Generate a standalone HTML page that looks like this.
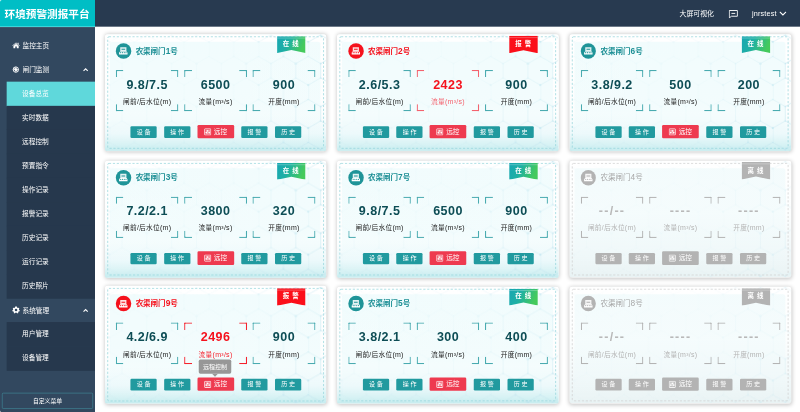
<!DOCTYPE html><html lang="zh-CN"><head><meta charset="utf-8"><title>环境预警测报平台</title><style>

*{box-sizing:border-box;margin:0;padding:0}
html,body{width:800px;height:412px;overflow:hidden;background:#fff}
body{font-family:"Liberation Sans","Noto Sans CJK SC",sans-serif;color:#333}
#stage{position:absolute;left:0;top:0;width:1920px;height:989px;transform:scale(0.4166667);transform-origin:0 0;background:#fff;overflow:hidden}
#hdr{position:absolute;left:0;top:0;width:1920px;height:64px;background:#283a50}
#logo{position:absolute;left:0;top:0;width:228px;height:65px;background:#00bec5;color:#fff;font-weight:bold;font-size:25.5px;line-height:66px;padding-left:11px;white-space:nowrap;border-bottom:2px solid #4fdde0}
#side{position:absolute;left:0;top:65px;width:228px;height:924px;background:#32485f}
.mi{position:absolute;left:0;width:228px;height:57.6px;line-height:57.6px;color:#fff;font-size:16px;white-space:nowrap}
.mi.top{padding-left:54px}
.mi.sub{padding-left:37px;left:16px;width:212px;height:58.75px;background:#26384d}
.mi.act{background:#5fd8db;color:#fff}
.mi svg{position:absolute}
.hr{position:absolute;top:0;height:66px;line-height:66px;color:#fff;font-size:16.5px;white-space:nowrap}
#cust{position:absolute;left:5px;top:878px;width:218px;height:38px;border:1.7px solid #46aab6;border-radius:3px;color:#fff;font-size:14px;text-align:center;line-height:34.5px}
.card{position:absolute;width:531.4px;height:281.3px;border-radius:7px;box-shadow:0 1px 11px rgba(0,0,0,.24);background:linear-gradient(180deg,#fff 0%,#fcfefe 68%,#eef9fb 85%,#d6f2f4 95%,#c6ecef 100%);overflow:hidden;border-bottom:1.5px solid #b0e2e6}
.card svg.hex{position:absolute;left:0;top:0;width:531.4px;height:281.3px;-webkit-mask-image:linear-gradient(90deg,rgba(0,0,0,.18) 0%,rgba(0,0,0,.22) 60%,rgba(0,0,0,.8) 90%,#000 100%);mask-image:linear-gradient(90deg,rgba(0,0,0,.18) 0%,rgba(0,0,0,.22) 60%,rgba(0,0,0,.8) 90%,#000 100%)}
.cw{position:absolute;left:0;width:531.4px;height:281.3px}
.card .pn{position:absolute;left:12px;top:18px;right:14px;bottom:10px;border-radius:6px;background:linear-gradient(180deg,rgba(228,249,251,.5),rgba(228,249,251,.4) 60%,rgba(228,249,251,0))}
.card.off{background:linear-gradient(180deg,#fff 0%,#fcfefe 45%,#f1f8f9 80%,#e9f3f4 100%);border-bottom-color:#dcdcdc}
.card.off .pn{background:linear-gradient(180deg,rgba(232,248,250,.5),rgba(232,248,250,.3) 60%,rgba(232,248,250,0))}
.ic{position:absolute;left:26.6px;top:22.4px;width:36.6px;height:36.6px;border-radius:50%;background:#1f9498}
.alarm .ic{background:#f5121d}
.off .ic{background:#b3b3b3}
.ic svg{position:absolute;left:7.3px;top:7.3px;width:22px;height:22px}
.ttl{position:absolute;left:74px;top:22px;height:38px;line-height:38px;font-size:18px;font-weight:bold;color:#1d8f95;white-space:nowrap}
.ttl b{font-size:20px;line-height:0}
.off .ttl b{font-weight:normal}
.alarm .ttl{color:#f5121d}
.off .ttl{color:#a8a8a8;font-weight:normal}
.rb{position:absolute;left:413px;top:6.5px;width:68.6px;height:39px}
.rb svg{position:absolute;left:0;top:0}
.rb span{position:absolute;left:-1.2px;top:2.5px;width:68.6px;height:31px;line-height:31px;text-align:center;color:#fff;font-size:15.5px;word-spacing:3px;font-weight:bold;white-space:nowrap}
.bx{position:absolute;top:86.2px;width:150.5px;height:99.4px}
.bx i{position:absolute;width:18.5px;height:17.5px;border:0 solid #4aabb0}
.bx i.a{left:0;top:0;border-left-width:3px;border-top-width:3px;border-top-left-radius:2px}
.bx i.b{right:0;top:0;border-right-width:3px;border-top-width:3px;border-top-right-radius:2px}
.bx i.c{left:0;bottom:0;border-left-width:3px;border-bottom-width:3px;border-bottom-left-radius:2px}
.bx i.d{right:0;bottom:0;border-right-width:3px;border-bottom-width:3px;border-bottom-right-radius:2px}
.bx.red i{border-color:#f5222d}
.bx.red.soft i{border-color:#f4626e}
.bx.red.soft .l{color:#f4626e}
.off .bx i{border-color:#b4b4b4}
.bx .v{position:absolute;left:0;top:15.3px;width:100%;text-align:center;font-size:30px;font-weight:bold;line-height:40px;color:#0d4d55;white-space:nowrap;letter-spacing:1.1px}
.bx .l{position:absolute;left:0;top:64.6px;width:100%;text-align:center;font-size:16px;line-height:24px;color:#222;white-space:nowrap;letter-spacing:.7px}
.bx .l b{font-weight:normal;font-size:16.8px;line-height:0}
.bx.red .v{color:#f5121d}
.bx.red .l{color:#f5222d}
.off .bx .v{color:#b9b9b9;letter-spacing:3px}
.off .bx .l{color:#b4b4b4}
.bt{position:absolute;top:221.2px;width:63px;height:27.6px;line-height:27.6px;background:#219a9f;color:#fff;font-size:14.5px;text-align:center;border-radius:3px;white-space:nowrap}
.bt.r{top:217.8px;width:88px;height:32.6px;line-height:32.6px;background:#ee3a4f;font-size:16px;border-radius:3px;padding-left:23px}
.bt.r svg{position:absolute;left:16px;top:8px;width:17px;height:17px}
.off .bt{background:#b3b3b3}
.off svg.hex{opacity:.45}
.tip{position:absolute;left:477px;top:862.5px;width:78px;height:34.5px;background:#979797;color:#fff;font-size:14.5px;line-height:34.5px;text-align:center;border-radius:4px}
.tip:after{content:"";position:absolute;left:32px;top:34.5px;border:7px solid transparent;border-top-color:#979797}

</style></head><body>

<svg width="0" height="0" style="position:absolute">
<defs>
<linearGradient id="gOn" x1="0" y1="0" x2="1" y2="0.25"><stop offset="0" stop-color="#17a6b3"/><stop offset="0.45" stop-color="#1fb0a4"/><stop offset="1" stop-color="#45ca5c"/></linearGradient>
<pattern id="hexp" width="119.2" height="103.2" patternUnits="userSpaceOnUse" patternTransform="translate(11 1.75)">
<g fill="none" stroke="#bfe3ee" stroke-width="1.3">
<path d="M29.8 0L59.6 17.2M29.8 0L0 17.2V51.6L29.8 68.8L59.6 51.6M29.8 68.8V103.2"/>
<path d="M89.4 0L119.2 17.2M89.4 0L59.6 17.2V51.6L89.4 68.8L119.2 51.6M89.4 68.8V103.2"/>
</g>
<g fill="#bce2ee"><circle cx="29.8" cy="0" r="2"/><circle cx="29.8" cy="103.2" r="2"/><circle cx="89.4" cy="0" r="1.6"/><circle cx="89.4" cy="103.2" r="1.6"/><circle cx="0" cy="17.2" r="2.7"/><circle cx="119.2" cy="17.2" r="2.7"/><circle cx="59.6" cy="17.2" r="1.7"/><circle cx="0" cy="51.6" r="1.7"/><circle cx="119.2" cy="51.6" r="1.7"/><circle cx="59.6" cy="51.6" r="2.4"/><circle cx="29.8" cy="68.8" r="2"/><circle cx="89.4" cy="68.8" r="3.1"/></g>
</pattern>
<g id="gate" fill="#fff"><path d="M3.6 2.2H18.4V12.3H3.6ZM6.6 6V8.3H15.4V6Z" fill-rule="evenodd" fill-opacity=".88"/><path d="M3 12.3H19L21.2 15.5V19.8H0.8V15.5ZM3.2 15.3a1.4 1.4 0 1 0 2.8 0a1.4 1.4 0 1 0 -2.8 0ZM7.4 15.3a1.4 1.4 0 1 0 2.8 0a1.4 1.4 0 1 0 -2.8 0ZM11.8 15.3a1.4 1.4 0 1 0 2.8 0a1.4 1.4 0 1 0 -2.8 0ZM16 15.3a1.4 1.4 0 1 0 2.8 0a1.4 1.4 0 1 0 -2.8 0Z" fill-rule="evenodd"/></g>
<g id="rc" fill="none" stroke="#fff" stroke-width="2"><rect x="1" y="1" width="15" height="15" rx="1.2"/><path d="M5 3.5V13.5M8.5 3.5V13.5M12 3.5V13.5" stroke-width="1.7"/><path d="M3.2 10.5H6.8M6.7 6H10.3M10.2 10.5H13.8" stroke-width="3"/></g>
<g id="home" fill="#fff"><path d="M8.5 0.8L17.3 8.3L16.3 9.5L8.5 2.9L0.7 9.5L-0.3 8.3Z"/><path d="M8.5 4.2L14.8 9.5V15H10.3V10.8H6.7V15H2.2V9.5Z"/><path d="M12.3 1.6H14.6V5.6L12.3 3.7Z"/></g>
<g id="gate2" fill="none" stroke="#fff" stroke-width="2.2"><circle cx="8" cy="8" r="6.4"/><path d="M1.5 8H14.5M8 1.5V14.5M3.4 3.4L12.6 12.6" stroke-width="1.6"/><circle cx="8" cy="8" r="2.6" fill="#fff"/></g>
<g id="gear" fill="#fff" transform="translate(8.5 8) scale(1.18) translate(-8 -8)"><path d="M8 0.8L9.7 1.1L10.2 3L11.8 3.9L13.6 3.2L14.7 4.6L13.8 6.3L14.2 8L15.8 9L15.3 10.7L13.4 10.9L12.3 12.3L12.7 14.2L11.1 15L9.7 13.7H6.3L4.9 15L3.3 14.2L3.7 12.3L2.6 10.9L0.7 10.7L0.2 9L1.8 8L2.2 6.3L1.3 4.6L2.4 3.2L4.2 3.9L5.8 3L6.3 1.1Z"/><circle cx="8" cy="8" r="2.6" fill="#32485f"/></g>
</defs>
</svg>

<div id="stage">
<div id="hdr"></div>
<div id="logo">环境预警测报平台</div>
<div class="hr" style="left:1631px">大屏可视化</div>
<svg style="position:absolute;left:1749px;top:24px" width="22" height="20" viewBox="0 0 22 20"><path d="M1.2 1.2H20.8V15H6.5L1.2 19Z" fill="none" stroke="#fff" stroke-width="2.2"/><path d="M6.5 8.2H15.5" stroke="#fff" stroke-width="2.2"/></svg>
<div class="hr" style="left:1805px;font-size:17.5px;letter-spacing:.3px">jnrstest</div>
<svg style="position:absolute;left:1870px;top:27px" width="18" height="12" viewBox="0 0 18 12"><path d="M1.5 1.5L9 9L16.5 1.5" fill="none" stroke="#fff" stroke-width="2.6"/></svg>
<div id="side"><div class="mi top" style="top:15.4px"><svg style="left:30px;top:20.5px;overflow:visible" width="17" height="16" viewBox="0 0 17 16"><use href="#home"/></svg>监控主页</div><div class="mi top" style="top:73.2px"><svg style="left:30px;top:20.5px;overflow:visible" width="17" height="16" viewBox="0 0 17 16"><use href="#gate2"/></svg>闸门监测<svg style="left:199px;top:23px" width="13" height="13" viewBox="0 0 13 13"><path d="M1.5 9L6.5 4L11.5 9" fill="none" stroke="#fff" stroke-width="2.6"/></svg></div><div class="mi sub act" style="top:130.9px">设备总览</div><div class="mi sub" style="top:188.7px">实时数据</div><div class="mi sub" style="top:246.4px">远程控制</div><div class="mi sub" style="top:304.1px">预置指令</div><div class="mi sub" style="top:361.9px">操作记录</div><div class="mi sub" style="top:419.6px">报警记录</div><div class="mi sub" style="top:477.4px">历史记录</div><div class="mi sub" style="top:535.1px">运行记录</div><div class="mi sub" style="top:592.9px">历史照片</div><div class="mi top" style="top:650.6px"><svg style="left:30px;top:20.5px;overflow:visible" width="17" height="16" viewBox="0 0 17 16"><use href="#gear"/></svg>系统管理<svg style="left:199px;top:23px" width="13" height="13" viewBox="0 0 13 13"><path d="M1.5 9L6.5 4L11.5 9" fill="none" stroke="#fff" stroke-width="2.6"/></svg></div><div class="mi sub" style="top:708.4px">用户管理</div><div class="mi sub" style="top:766.1px">设备管理</div><div id="cust">自定义菜单</div></div>
<div class="card" style="left:251.5px;top:81.8px"><svg style="position:absolute;left:0;top:0" width="531.4" height="281.3" viewBox="0 0 531.4 281.3"><rect x="6.5" y="6.2" width="518" height="267.8" rx="3" fill="none" stroke="#93d5da" stroke-width="1.7" stroke-dasharray="5.2 4.2"/></svg><div class="cw" style="top:0px"><svg class="hex" viewBox="0 0 531.4 281.3"><rect width="531.4" height="281.3" fill="url(#hexp)"/></svg><div class="pn"></div><div class="ic"><svg viewBox="0 0 22 22"><use href="#gate"/></svg></div><div class="ttl">农渠闸门<b>1</b>号</div><div class="rb" style="top:5.2px"><svg width="68.6" height="40.3" viewBox="0 0 68.6 40.3"><path d="M0 0H68.6V40.3L34.3 33.3L0 40.3Z" fill="url(#gOn)"/><path d="M0 4.3H68.6" stroke="#fff" stroke-opacity=".55" stroke-width="1.2"/></svg><span style="top:2.1px">在 线</span></div><div class="bx" style="left:26.4px"><i class="a"></i><i class="b"></i><i class="c"></i><i class="d"></i><div class="v">9.8/7.5</div><div class="l">闸前/后水位<b>(m)</b></div></div><div class="bx" style="left:190.6px"><i class="a"></i><i class="b"></i><i class="c"></i><i class="d"></i><div class="v">6500</div><div class="l">流量<b>(m³/s)</b></div></div><div class="bx" style="left:354.8px"><i class="a"></i><i class="b"></i><i class="c"></i><i class="d"></i><div class="v">900</div><div class="l">开度<b>(mm)</b></div></div><div class="bt" style="left:61.5px">设 备</div><div class="bt" style="left:142px">操 作</div><div class="bt r" style="left:222px"><svg viewBox="0 0 17 17"><use href="#rc"/></svg>远控</div><div class="bt" style="left:327.5px">报 警</div><div class="bt" style="left:408.5px">历 史</div></div></div>
<div class="card alarm" style="left:809.4px;top:81.8px"><svg style="position:absolute;left:0;top:0" width="531.4" height="281.3" viewBox="0 0 531.4 281.3"><rect x="6.5" y="6.2" width="518" height="267.8" rx="3" fill="none" stroke="#93d5da" stroke-width="1.7" stroke-dasharray="5.2 4.2"/></svg><div class="cw" style="top:0px"><svg class="hex" viewBox="0 0 531.4 281.3"><rect width="531.4" height="281.3" fill="url(#hexp)"/></svg><div class="pn"></div><div class="ic"><svg viewBox="0 0 22 22"><use href="#gate"/></svg></div><div class="ttl">农渠闸门<b>2</b>号</div><div class="rb" style="top:3.8px"><svg width="68.6" height="41.7" viewBox="0 0 68.6 41.7"><path d="M0 0H68.6V41.7L34.3 34.7L0 41.7Z" fill="#fb0f1a"/><path d="M0 4.3H68.6" stroke="#fff" stroke-opacity=".55" stroke-width="1.2"/></svg><span style="top:3.5px">报 警</span></div><div class="bx" style="left:26.4px"><i class="a"></i><i class="b"></i><i class="c"></i><i class="d"></i><div class="v">2.6/5.3</div><div class="l">闸前/后水位<b>(m)</b></div></div><div class="bx red soft" style="left:190.6px"><i class="a"></i><i class="b"></i><i class="c"></i><i class="d"></i><div class="v">2423</div><div class="l">流量<b>(m³/s)</b></div></div><div class="bx" style="left:354.8px"><i class="a"></i><i class="b"></i><i class="c"></i><i class="d"></i><div class="v">900</div><div class="l">开度<b>(mm)</b></div></div><div class="bt" style="left:61.5px">设 备</div><div class="bt" style="left:142px">操 作</div><div class="bt r" style="left:222px"><svg viewBox="0 0 17 17"><use href="#rc"/></svg>远控</div><div class="bt" style="left:327.5px">报 警</div><div class="bt" style="left:408.5px">历 史</div></div></div>
<div class="card" style="left:1367.3px;top:81.8px"><svg style="position:absolute;left:0;top:0" width="531.4" height="281.3" viewBox="0 0 531.4 281.3"><rect x="6.5" y="6.2" width="518" height="267.8" rx="3" fill="none" stroke="#93d5da" stroke-width="1.7" stroke-dasharray="5.2 4.2"/></svg><div class="cw" style="top:0px"><svg class="hex" viewBox="0 0 531.4 281.3"><rect width="531.4" height="281.3" fill="url(#hexp)"/></svg><div class="pn"></div><div class="ic"><svg viewBox="0 0 22 22"><use href="#gate"/></svg></div><div class="ttl">农渠闸门<b>6</b>号</div><div class="rb" style="top:5.2px"><svg width="68.6" height="40.3" viewBox="0 0 68.6 40.3"><path d="M0 0H68.6V40.3L34.3 33.3L0 40.3Z" fill="url(#gOn)"/><path d="M0 4.3H68.6" stroke="#fff" stroke-opacity=".55" stroke-width="1.2"/></svg><span style="top:2.1px">在 线</span></div><div class="bx" style="left:26.4px"><i class="a"></i><i class="b"></i><i class="c"></i><i class="d"></i><div class="v">3.8/9.2</div><div class="l">闸前/后水位<b>(m)</b></div></div><div class="bx" style="left:190.6px"><i class="a"></i><i class="b"></i><i class="c"></i><i class="d"></i><div class="v">500</div><div class="l">流量<b>(m³/s)</b></div></div><div class="bx" style="left:354.8px"><i class="a"></i><i class="b"></i><i class="c"></i><i class="d"></i><div class="v">200</div><div class="l">开度<b>(mm)</b></div></div><div class="bt" style="left:61.5px">设 备</div><div class="bt" style="left:142px">操 作</div><div class="bt r" style="left:222px"><svg viewBox="0 0 17 17"><use href="#rc"/></svg>远控</div><div class="bt" style="left:327.5px">报 警</div><div class="bt" style="left:408.5px">历 史</div></div></div>
<div class="card" style="left:251.5px;top:385.6px"><svg style="position:absolute;left:0;top:0" width="531.4" height="281.3" viewBox="0 0 531.4 281.3"><rect x="6.5" y="6.2" width="518" height="267.8" rx="3" fill="none" stroke="#93d5da" stroke-width="1.7" stroke-dasharray="5.2 4.2"/></svg><div class="cw" style="top:0px"><svg class="hex" viewBox="0 0 531.4 281.3"><rect width="531.4" height="281.3" fill="url(#hexp)"/></svg><div class="pn"></div><div class="ic"><svg viewBox="0 0 22 22"><use href="#gate"/></svg></div><div class="ttl">农渠闸门<b>3</b>号</div><div class="rb" style="top:5.2px"><svg width="68.6" height="40.3" viewBox="0 0 68.6 40.3"><path d="M0 0H68.6V40.3L34.3 33.3L0 40.3Z" fill="url(#gOn)"/><path d="M0 4.3H68.6" stroke="#fff" stroke-opacity=".55" stroke-width="1.2"/></svg><span style="top:2.1px">在 线</span></div><div class="bx" style="left:26.4px"><i class="a"></i><i class="b"></i><i class="c"></i><i class="d"></i><div class="v">7.2/2.1</div><div class="l">闸前/后水位<b>(m)</b></div></div><div class="bx" style="left:190.6px"><i class="a"></i><i class="b"></i><i class="c"></i><i class="d"></i><div class="v">3800</div><div class="l">流量<b>(m³/s)</b></div></div><div class="bx" style="left:354.8px"><i class="a"></i><i class="b"></i><i class="c"></i><i class="d"></i><div class="v">320</div><div class="l">开度<b>(mm)</b></div></div><div class="bt" style="left:61.5px">设 备</div><div class="bt" style="left:142px">操 作</div><div class="bt r" style="left:222px"><svg viewBox="0 0 17 17"><use href="#rc"/></svg>远控</div><div class="bt" style="left:327.5px">报 警</div><div class="bt" style="left:408.5px">历 史</div></div></div>
<div class="card" style="left:809.4px;top:385.6px"><svg style="position:absolute;left:0;top:0" width="531.4" height="281.3" viewBox="0 0 531.4 281.3"><rect x="6.5" y="6.2" width="518" height="267.8" rx="3" fill="none" stroke="#93d5da" stroke-width="1.7" stroke-dasharray="5.2 4.2"/></svg><div class="cw" style="top:0px"><svg class="hex" viewBox="0 0 531.4 281.3"><rect width="531.4" height="281.3" fill="url(#hexp)"/></svg><div class="pn"></div><div class="ic"><svg viewBox="0 0 22 22"><use href="#gate"/></svg></div><div class="ttl">农渠闸门<b>7</b>号</div><div class="rb" style="top:5.2px"><svg width="68.6" height="40.3" viewBox="0 0 68.6 40.3"><path d="M0 0H68.6V40.3L34.3 33.3L0 40.3Z" fill="url(#gOn)"/><path d="M0 4.3H68.6" stroke="#fff" stroke-opacity=".55" stroke-width="1.2"/></svg><span style="top:2.1px">在 线</span></div><div class="bx" style="left:26.4px"><i class="a"></i><i class="b"></i><i class="c"></i><i class="d"></i><div class="v">9.8/7.5</div><div class="l">闸前/后水位<b>(m)</b></div></div><div class="bx" style="left:190.6px"><i class="a"></i><i class="b"></i><i class="c"></i><i class="d"></i><div class="v">6500</div><div class="l">流量<b>(m³/s)</b></div></div><div class="bx" style="left:354.8px"><i class="a"></i><i class="b"></i><i class="c"></i><i class="d"></i><div class="v">900</div><div class="l">开度<b>(mm)</b></div></div><div class="bt" style="left:61.5px">设 备</div><div class="bt" style="left:142px">操 作</div><div class="bt r" style="left:222px"><svg viewBox="0 0 17 17"><use href="#rc"/></svg>远控</div><div class="bt" style="left:327.5px">报 警</div><div class="bt" style="left:408.5px">历 史</div></div></div>
<div class="card off" style="left:1367.3px;top:385.6px"><svg style="position:absolute;left:0;top:0" width="531.4" height="281.3" viewBox="0 0 531.4 281.3"><rect x="6.5" y="6.2" width="518" height="267.8" rx="3" fill="none" stroke="#cfcfcf" stroke-width="1.7" stroke-dasharray="5.2 4.2"/></svg><div class="cw" style="top:0px"><svg class="hex" viewBox="0 0 531.4 281.3"><rect width="531.4" height="281.3" fill="url(#hexp)"/></svg><div class="pn"></div><div class="ic"><svg viewBox="0 0 22 22"><use href="#gate"/></svg></div><div class="ttl">农渠闸门<b>4</b>号</div><div class="rb" style="top:3.8px"><svg width="68.6" height="41.7" viewBox="0 0 68.6 41.7"><path d="M0 0H68.6V41.7L34.3 34.7L0 41.7Z" fill="#b3b3b3"/><path d="M0 4.3H68.6" stroke="#fff" stroke-opacity=".55" stroke-width="1.2"/></svg><span style="top:3.5px">离 线</span></div><div class="bx" style="left:26.4px"><i class="a"></i><i class="b"></i><i class="c"></i><i class="d"></i><div class="v">--/--</div><div class="l">闸前/后水位<b>(m)</b></div></div><div class="bx" style="left:190.6px"><i class="a"></i><i class="b"></i><i class="c"></i><i class="d"></i><div class="v">----</div><div class="l">流量<b>(m³/s)</b></div></div><div class="bx" style="left:354.8px"><i class="a"></i><i class="b"></i><i class="c"></i><i class="d"></i><div class="v">----</div><div class="l">开度<b>(mm)</b></div></div><div class="bt" style="left:61.5px">设 备</div><div class="bt" style="left:142px">操 作</div><div class="bt r" style="left:222px"><svg viewBox="0 0 17 17"><use href="#rc"/></svg>远控</div><div class="bt" style="left:327.5px">报 警</div><div class="bt" style="left:408.5px">历 史</div></div></div>
<div class="card alarm" style="left:251.5px;top:685.6px;height:283.7px"><svg style="position:absolute;left:0;top:0" width="531.4" height="283.7" viewBox="0 0 531.4 283.7"><rect x="6.5" y="6.2" width="518" height="270.2" rx="3" fill="none" stroke="#93d5da" stroke-width="1.7" stroke-dasharray="5.2 4.2"/></svg><div class="cw" style="top:2.4px"><svg class="hex" viewBox="0 0 531.4 281.3"><rect width="531.4" height="281.3" fill="url(#hexp)"/></svg><div class="pn"></div><div class="ic"><svg viewBox="0 0 22 22"><use href="#gate"/></svg></div><div class="ttl">农渠闸门<b>9</b>号</div><div class="rb" style="top:3.8px"><svg width="68.6" height="41.7" viewBox="0 0 68.6 41.7"><path d="M0 0H68.6V41.7L34.3 34.7L0 41.7Z" fill="#fb0f1a"/><path d="M0 4.3H68.6" stroke="#fff" stroke-opacity=".55" stroke-width="1.2"/></svg><span style="top:3.5px">报 警</span></div><div class="bx" style="left:26.4px"><i class="a"></i><i class="b"></i><i class="c"></i><i class="d"></i><div class="v">4.2/6.9</div><div class="l">闸前/后水位<b>(m)</b></div></div><div class="bx red" style="left:190.6px"><i class="a"></i><i class="b"></i><i class="c"></i><i class="d"></i><div class="v">2496</div><div class="l">流量<b>(m³/s)</b></div></div><div class="bx" style="left:354.8px"><i class="a"></i><i class="b"></i><i class="c"></i><i class="d"></i><div class="v">900</div><div class="l">开度<b>(mm)</b></div></div><div class="bt" style="left:61.5px">设 备</div><div class="bt" style="left:142px">操 作</div><div class="bt r" style="left:222px"><svg viewBox="0 0 17 17"><use href="#rc"/></svg>远控</div><div class="bt" style="left:327.5px">报 警</div><div class="bt" style="left:408.5px">历 史</div></div></div>
<div class="card" style="left:809.4px;top:688.0px"><svg style="position:absolute;left:0;top:0" width="531.4" height="281.3" viewBox="0 0 531.4 281.3"><rect x="6.5" y="6.2" width="518" height="267.8" rx="3" fill="none" stroke="#93d5da" stroke-width="1.7" stroke-dasharray="5.2 4.2"/></svg><div class="cw" style="top:0px"><svg class="hex" viewBox="0 0 531.4 281.3"><rect width="531.4" height="281.3" fill="url(#hexp)"/></svg><div class="pn"></div><div class="ic"><svg viewBox="0 0 22 22"><use href="#gate"/></svg></div><div class="ttl">农渠闸门<b>5</b>号</div><div class="rb" style="top:5.2px"><svg width="68.6" height="40.3" viewBox="0 0 68.6 40.3"><path d="M0 0H68.6V40.3L34.3 33.3L0 40.3Z" fill="url(#gOn)"/><path d="M0 4.3H68.6" stroke="#fff" stroke-opacity=".55" stroke-width="1.2"/></svg><span style="top:2.1px">在 线</span></div><div class="bx" style="left:26.4px"><i class="a"></i><i class="b"></i><i class="c"></i><i class="d"></i><div class="v">3.8/2.1</div><div class="l">闸前/后水位<b>(m)</b></div></div><div class="bx" style="left:190.6px"><i class="a"></i><i class="b"></i><i class="c"></i><i class="d"></i><div class="v">300</div><div class="l">流量<b>(m³/s)</b></div></div><div class="bx" style="left:354.8px"><i class="a"></i><i class="b"></i><i class="c"></i><i class="d"></i><div class="v">400</div><div class="l">开度<b>(mm)</b></div></div><div class="bt" style="left:61.5px">设 备</div><div class="bt" style="left:142px">操 作</div><div class="bt r" style="left:222px"><svg viewBox="0 0 17 17"><use href="#rc"/></svg>远控</div><div class="bt" style="left:327.5px">报 警</div><div class="bt" style="left:408.5px">历 史</div></div></div>
<div class="card off" style="left:1367.3px;top:688.0px"><svg style="position:absolute;left:0;top:0" width="531.4" height="281.3" viewBox="0 0 531.4 281.3"><rect x="6.5" y="6.2" width="518" height="267.8" rx="3" fill="none" stroke="#cfcfcf" stroke-width="1.7" stroke-dasharray="5.2 4.2"/></svg><div class="cw" style="top:0px"><svg class="hex" viewBox="0 0 531.4 281.3"><rect width="531.4" height="281.3" fill="url(#hexp)"/></svg><div class="pn"></div><div class="ic"><svg viewBox="0 0 22 22"><use href="#gate"/></svg></div><div class="ttl">农渠闸门<b>8</b>号</div><div class="rb" style="top:3.8px"><svg width="68.6" height="41.7" viewBox="0 0 68.6 41.7"><path d="M0 0H68.6V41.7L34.3 34.7L0 41.7Z" fill="#b3b3b3"/><path d="M0 4.3H68.6" stroke="#fff" stroke-opacity=".55" stroke-width="1.2"/></svg><span style="top:3.5px">离 线</span></div><div class="bx" style="left:26.4px"><i class="a"></i><i class="b"></i><i class="c"></i><i class="d"></i><div class="v">--/--</div><div class="l">闸前/后水位<b>(m)</b></div></div><div class="bx" style="left:190.6px"><i class="a"></i><i class="b"></i><i class="c"></i><i class="d"></i><div class="v">----</div><div class="l">流量<b>(m³/s)</b></div></div><div class="bx" style="left:354.8px"><i class="a"></i><i class="b"></i><i class="c"></i><i class="d"></i><div class="v">----</div><div class="l">开度<b>(mm)</b></div></div><div class="bt" style="left:61.5px">设 备</div><div class="bt" style="left:142px">操 作</div><div class="bt r" style="left:222px"><svg viewBox="0 0 17 17"><use href="#rc"/></svg>远控</div><div class="bt" style="left:327.5px">报 警</div><div class="bt" style="left:408.5px">历 史</div></div></div>
<div class="tip">远程控制</div>
<svg style="position:absolute;left:0;top:0" width="5" height="5" viewBox="0 0 5 5"><path d="M0 0H4.5A4.5 4.5 0 0 0 0 4.5Z" fill="#fff"/></svg><svg style="position:absolute;left:0;top:984px" width="5" height="5" viewBox="0 0 5 5"><path d="M0 5H4.5A4.5 4.5 0 0 1 0 0.5Z" fill="#fff"/></svg>
</div></body></html>
